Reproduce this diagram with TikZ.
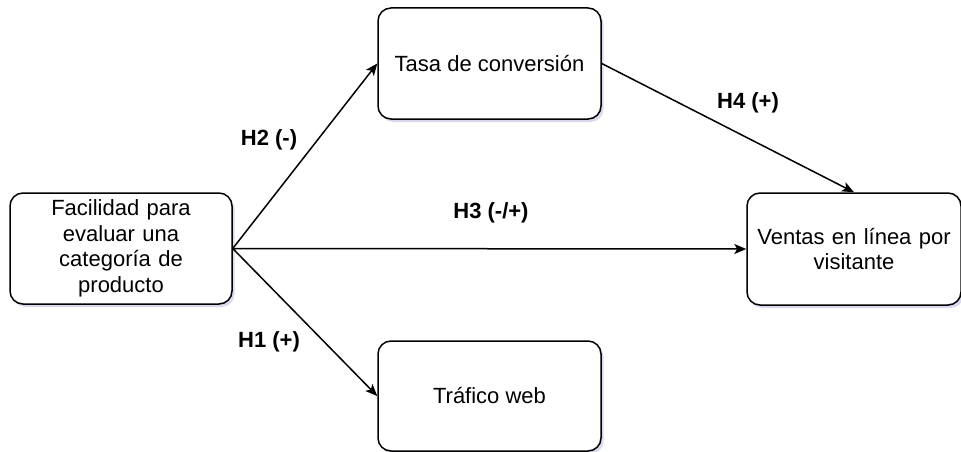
\documentclass[tikz,border=0pt]{standalone}
\usepackage{fontspec}
\setmainfont{Liberation Sans}
\usetikzlibrary{shadows,arrows.meta}
\begin{document}
\begin{tikzpicture}[x=1pt,y=-1pt,
  box/.style={draw, line width=1.5pt, rounded corners=13pt, fill=white,
    align=center, inner sep=0pt,
    font=\fontsize{22}{25.5}\selectfont,
    drop shadow={shadow xshift=2.5pt, shadow yshift=-3pt, opacity=0.22, fill=gray!60!blue}},
  arr/.style={line width=1.5pt, -{Stealth[length=12pt, width=10pt, inset=3pt]}},
  hyp/.style={font=\bfseries\fontsize{22}{25.5}\selectfont, inner sep=0pt}]
\useasboundingbox (0,0) rectangle (961,452);

\node[box, minimum width=222pt, minimum height=111pt, text width=210pt]
  (fac) at (121,248.5) {Facilidad para\\evaluar una\\categoría de\\producto};
\node[box, minimum width=223pt, minimum height=111pt]
  (tasa) at (489.5,63.5) {Tasa de conversión};
\node[box, minimum width=214pt, minimum height=112pt, text width=210pt]
  (ventas) at (854,249) {Ventas en línea por\\visitante};
\node[box, minimum width=223pt, minimum height=110pt]
  (trafico) at (489.5,396) {Tráfico web};

\draw[arr] (fac.east) -- (tasa.west);
\draw[arr] (fac.east) -- (trafico.west);
\draw[arr] (fac.east) -- (ventas.west);
\draw[arr] (tasa.east) -- (ventas.north);

\node[hyp] (h2) at (269,140) {H2 (-)};
\node[hyp] (h1) at (269,342) {H1 (+)};
\node[hyp] (h3) at (491,213) {H3 (-/+)};
\node[hyp] (h4) at (748,103) {H4 (+)};
\end{tikzpicture}
\end{document}
